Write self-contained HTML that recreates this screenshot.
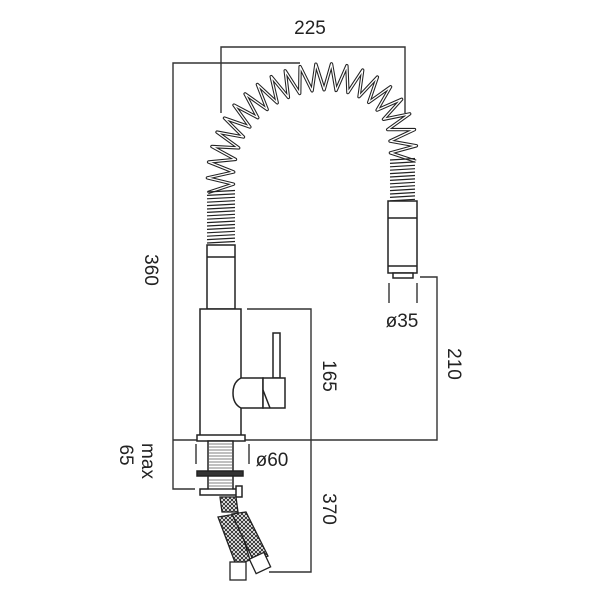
<!DOCTYPE html>
<html><head><meta charset="utf-8"><style>
html,body{margin:0;padding:0;background:#fff;}
svg{display:block;}
text{font-family:"Liberation Sans Narrow","Liberation Sans",sans-serif;font-size:19px;fill:#222;}
</style></head><body>
<svg id="s" width="600" height="600" viewBox="0 0 600 600" xmlns="http://www.w3.org/2000/svg">
<defs>
<pattern id="mesh" width="4" height="4" patternUnits="userSpaceOnUse">
<rect width="4" height="4" fill="#fff"/>
<path d="M0,0 L4,4 M4,0 L0,4" stroke="#222" stroke-width="0.9"/>
</pattern>
</defs>
<g fill="none" stroke="#333" stroke-width="1.4">
<polyline points="221,113 221,47 405,47 405,113"/>
<polyline points="300,63 173,63 173,489 195,489"/>
<polyline points="173,440 437,440 437,277 420,277"/>
<polyline points="247,309 311,309 311,572 269,572"/>
<line x1="389" y1="283" x2="389" y2="303"/>
<line x1="417" y1="283" x2="417" y2="303"/>
<line x1="196" y1="444" x2="196" y2="464"/>
<line x1="249" y1="444" x2="249" y2="464"/>
</g>
<g fill="#fff" stroke="#222" stroke-width="1.5">
<rect x="207" y="245" width="28" height="64"/>
<line x1="207" y1="257" x2="235" y2="257"/>
<rect x="200" y="309" width="41" height="131"/>
<rect x="273" y="333" width="7" height="45"/>
<path d="M241,378 L263,378 L263,408 L241,408 Q233,404 233,393 Q233,382 241,378 Z"/>
<rect x="263" y="378" width="22" height="30"/>
<path d="M263,390 L270,408"/>
<rect x="388" y="201" width="29" height="72"/>
<line x1="388" y1="218" x2="417" y2="218"/>
<line x1="388" y1="266" x2="417" y2="266"/>
<rect x="393" y="273" width="20" height="5"/>
<rect x="197" y="435" width="48" height="6"/>
<rect x="208" y="441" width="25" height="50"/>
<rect x="197" y="471" width="46" height="5" fill="#333"/>
<rect x="200" y="489" width="40" height="6"/>
<rect x="236" y="486" width="6" height="11"/>
</g>
<g stroke="#555" stroke-width="0.8" id="threads"></g>
<g stroke="#222" stroke-width="1.3" fill="url(#mesh)">
<path d="M220,497 L236,497 L238,512 L222,512 Z"/>
<path d="M218,517 L236,514 L250,560 L236,565 Z"/>
<path d="M232,514 L246,512 L268,556 L254,562 Z"/>
<rect x="230" y="562" width="16" height="18" fill="#fff"/>
<rect x="252" y="555" width="16" height="16" fill="#fff" transform="rotate(-25 260 563)"/>
</g>
<g id="spring"></g>
<g>
<text x="310" y="34" text-anchor="middle">225</text>
<text transform="translate(145,270) rotate(90)" text-anchor="middle">360</text>
<text transform="translate(323,376) rotate(90)" text-anchor="middle">165</text>
<text transform="translate(448,364) rotate(90)" text-anchor="middle">210</text>
<text transform="translate(323,509) rotate(90)" text-anchor="middle">370</text>
<text transform="translate(142,461) rotate(90)" text-anchor="middle">max</text>
<text transform="translate(120,455) rotate(90)" text-anchor="middle">65</text>
<text x="402" y="327" text-anchor="middle">ø35</text>
<text x="272" y="466" text-anchor="middle">ø60</text>
</g>
</svg>
<script>
(function(){
var ns="http://www.w3.org/2000/svg";
function bz(t){var a=[221,192],b=[208,55],c=[415,35],d=[403,160],u=1-t;
return [u*u*u*a[0]+3*u*u*t*b[0]+3*u*t*t*c[0]+t*t*t*d[0],u*u*u*a[1]+3*u*u*t*b[1]+3*u*t*t*c[1]+t*t*t*d[1]];}
var N=600,L=[0],P=[];
for(var i=0;i<=N;i++){P.push(bz(i/N));if(i)L.push(L[i-1]+Math.hypot(P[i][0]-P[i-1][0],P[i][1]-P[i-1][1]));}
var tot=L[N],teeth=22,d="";
for(var k=0;k<=teeth*2;k++){var s=tot*k/(teeth*2),j=0;while(j<N&&L[j]<s)j++;j=Math.max(1,j);
var dx=P[j][0]-P[j-1][0],dy=P[j][1]-P[j-1][1],l=Math.hypot(dx,dy),nx=-dy/l,ny=dx/l,a=(k%2?13:-13);
d+=(k?"L":"M")+(P[j][0]+nx*a).toFixed(1)+","+(P[j][1]+ny*a).toFixed(1);}
var g=document.getElementById("spring");
[["#222",3.4],["#fff",1.3]].forEach(function(st){var p=document.createElementNS(ns,"path");p.setAttribute("d",d);p.setAttribute("fill","none");p.setAttribute("stroke",st[0]);p.setAttribute("stroke-width",st[1]);p.setAttribute("stroke-linejoin","round");g.appendChild(p);});
function dense(x1,x2,y1,y2){for(var y=y1;y<=y2;y+=3.4){var ln=document.createElementNS(ns,"line");ln.setAttribute("x1",x1);ln.setAttribute("x2",x2);ln.setAttribute("y1",y);ln.setAttribute("y2",y-1.5);ln.setAttribute("stroke","#222");ln.setAttribute("stroke-width","1.2");g.appendChild(ln);}}
dense(207,235,192,245);dense(390,415,160,201);
var th=document.getElementById("threads");
for(var y=444;y<490;y+=3){if(y>469&&y<478)continue;var ln=document.createElementNS(ns,"line");ln.setAttribute("x1",209);ln.setAttribute("x2",232);ln.setAttribute("y1",y);ln.setAttribute("y2",y);th.appendChild(ln);}
})();
</script>
</body></html>
